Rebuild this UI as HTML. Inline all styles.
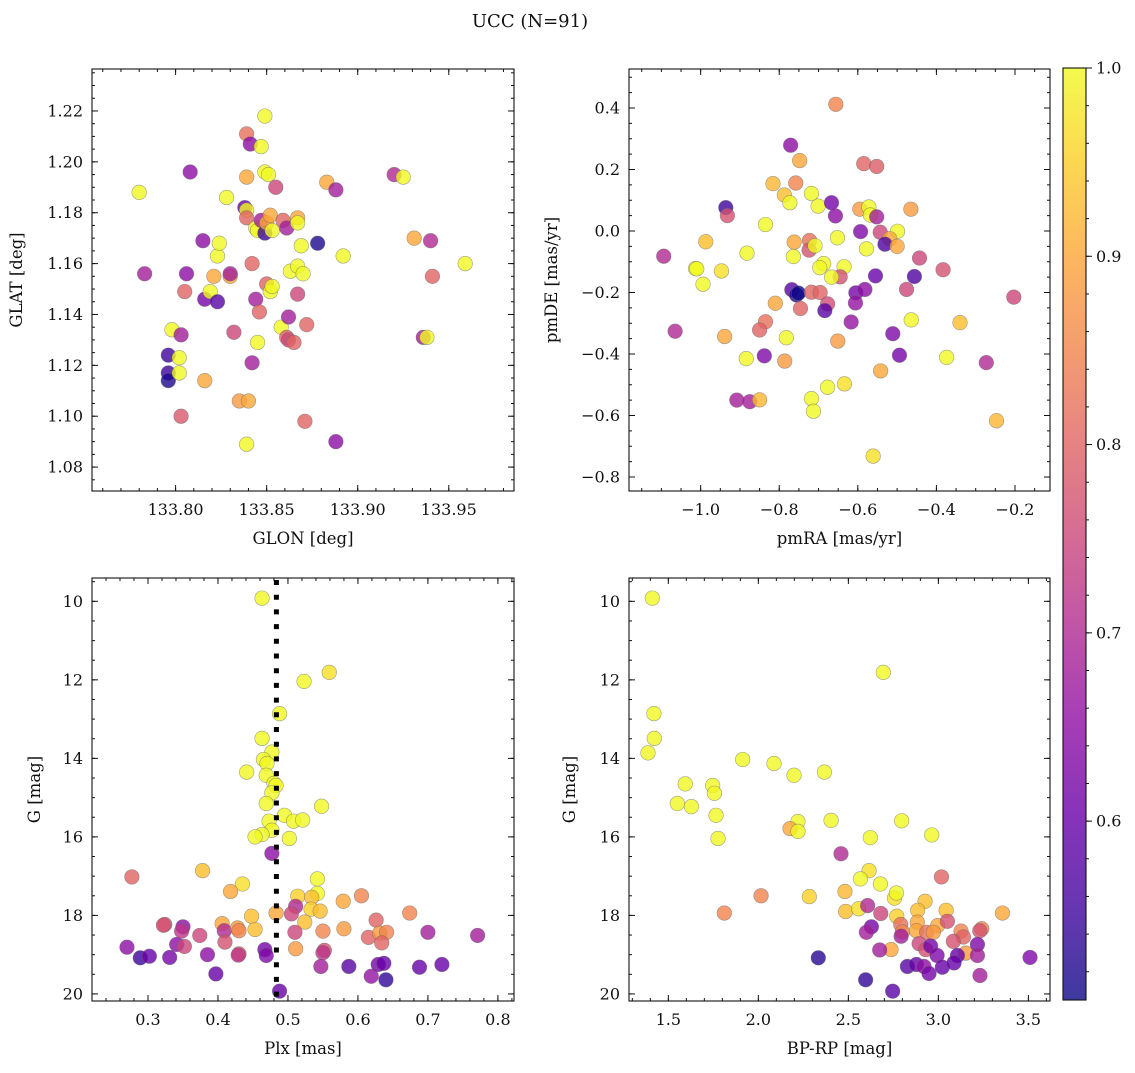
<!DOCTYPE html>
<html><head><meta charset="utf-8">
<style>
html,body{margin:0;padding:0;background:#fff;}
svg text{font-family:"DejaVu Serif","Liberation Serif",serif;fill:#111;}
</style></head>
<body>
<svg id="fig" width="1135" height="1068" viewBox="0 0 1135 1068" xmlns="http://www.w3.org/2000/svg">
<text x="530" y="27" font-size="18" text-anchor="middle">UCC (N=91)</text>
</svg>
<script>
// ---- Panel 1: GLON vs GLAT ----
const glonVals=[133.780,133.783,133.798,133.808,133.806,133.805,133.803,133.796,133.796,133.796,133.802,133.802,133.803,133.815,133.816,133.819,133.821,133.823,133.823,133.824,133.828,133.830,133.830,133.832,133.816,133.835,133.840,133.839,133.839,133.841,133.839,133.838,133.839,133.839,133.842,133.842,133.844,133.844,133.845,133.846,133.845,133.847,133.849,133.847,133.849,133.851,133.849,133.850,133.852,133.850,133.852,133.853,133.855,133.853,133.858,133.859,133.861,133.862,133.861,133.862,133.865,133.863,133.867,133.867,133.867,133.867,133.869,133.870,133.872,133.871,133.878,133.883,133.888,133.888,133.892,133.920,133.925,133.931,133.936,133.938,133.940,133.941,133.959];
const glatVals=[1.188,1.156,1.134,1.196,1.156,1.149,1.132,1.124,1.117,1.114,1.123,1.117,1.100,1.169,1.146,1.149,1.155,1.145,1.163,1.168,1.186,1.155,1.156,1.133,1.114,1.106,1.106,1.089,1.211,1.207,1.194,1.182,1.181,1.178,1.160,1.121,1.146,1.174,1.173,1.141,1.129,1.177,1.218,1.206,1.196,1.195,1.172,1.176,1.179,1.152,1.149,1.151,1.190,1.173,1.135,1.177,1.174,1.139,1.131,1.130,1.129,1.157,1.159,1.148,1.178,1.176,1.167,1.156,1.136,1.098,1.168,1.192,1.189,1.090,1.163,1.195,1.194,1.170,1.131,1.131,1.169,1.155,1.160];
const prob1=[1.0,0.68,1.0,0.65,0.65,0.8,0.68,0.55,0.55,0.52,1.0,1.0,0.78,0.65,0.62,1.0,0.9,0.58,1.0,1.0,1.0,0.9,0.68,0.75,0.9,0.88,0.9,1.0,0.82,0.65,0.9,0.6,1.0,0.8,0.8,0.68,0.68,1.0,1.0,0.8,1.0,0.68,1.0,1.0,1.0,1.0,0.55,0.9,0.9,0.8,1.0,1.0,0.75,1.0,1.0,0.8,0.68,0.68,0.8,0.75,0.8,1.0,1.0,0.75,0.9,1.0,1.0,1.0,0.8,0.8,0.52,0.9,0.68,0.65,1.0,0.7,1.0,0.9,0.68,1.0,0.7,0.8,1.0];
// ---- Panel 2: pmRA vs pmDE ----
const pmraVals=[-0.656,-0.771,-0.748,-0.585,-0.552,-0.816,-0.758,-0.787,-0.718,-0.773,-0.701,-0.667,-0.936,-0.932,-0.657,-0.595,-0.572,-0.568,-0.552,-0.465,-0.835,-0.593,-0.543,-0.499,-0.519,-0.531,-0.500,-0.652,-0.578,-0.987,-1.094,-0.882,-0.762,-0.723,-0.724,-0.709,-0.764,-0.687,-0.697,-0.635,-0.645,-0.667,-1.013,-1.010,-0.947,-0.994,-0.443,-0.383,-0.555,-0.456,-0.476,-0.203,-0.768,-0.756,-0.751,-0.718,-0.696,-0.677,-0.684,-0.746,-0.605,-0.582,-0.606,-0.810,-0.835,-0.850,-0.617,-0.464,-0.340,-1.065,-0.939,-0.782,-0.651,-0.511,-0.884,-0.838,-0.786,-0.494,-0.374,-0.273,-0.542,-0.634,-0.677,-0.718,-0.713,-0.908,-0.875,-0.850,-0.247,-0.561];
const pmdeVals=[0.412,0.279,0.229,0.219,0.210,0.154,0.156,0.117,0.122,0.092,0.081,0.092,0.076,0.050,0.049,0.071,0.078,0.052,0.046,0.071,0.021,-0.002,-0.004,-0.001,-0.025,-0.043,-0.050,-0.022,-0.058,-0.035,-0.082,-0.072,-0.036,-0.031,-0.062,-0.048,-0.083,-0.106,-0.119,-0.116,-0.149,-0.150,-0.122,-0.123,-0.130,-0.173,-0.088,-0.126,-0.146,-0.148,-0.190,-0.215,-0.191,-0.208,-0.202,-0.199,-0.200,-0.237,-0.259,-0.252,-0.201,-0.190,-0.234,-0.235,-0.295,-0.322,-0.296,-0.289,-0.298,-0.326,-0.343,-0.347,-0.358,-0.334,-0.415,-0.406,-0.423,-0.404,-0.411,-0.428,-0.455,-0.497,-0.508,-0.545,-0.586,-0.550,-0.555,-0.549,-0.617,-0.732];
const prob2=[0.85,0.65,0.9,0.8,0.79,0.92,0.85,0.93,1.0,1.0,1.0,0.62,0.55,0.77,0.65,0.88,1.0,1.0,0.68,0.88,1.0,0.63,0.75,1.0,0.9,0.57,0.9,1.0,1.0,0.93,0.7,1.0,0.9,0.82,0.77,1.0,1.0,1.0,1.0,1.0,0.77,1.0,1.0,1.0,0.97,1.0,0.75,0.77,0.6,0.57,0.75,0.75,0.58,0.53,0.5,0.8,0.8,0.76,0.58,0.8,0.62,0.65,0.66,0.9,0.82,0.8,0.66,1.0,0.93,0.7,0.9,1.0,0.88,0.63,1.0,0.63,0.88,0.62,1.0,0.7,0.9,0.97,1.0,1.0,1.0,0.68,0.68,0.92,0.92,0.97];
// ---- Panel 3: Plx vs G ----
const plxVals=[0.463,0.559,0.523,0.488,0.463,0.477,0.465,0.470,0.441,0.469,0.480,0.483,0.477,0.469,0.548,0.495,0.508,0.521,0.473,0.477,0.463,0.453,0.502,0.477,0.277,0.378,0.435,0.418,0.542,0.542,0.514,0.534,0.579,0.605,0.533,0.546,0.511,0.505,0.483,0.448,0.524,0.674,0.626,0.324,0.322,0.350,0.348,0.406,0.409,0.428,0.430,0.453,0.374,0.410,0.510,0.550,0.580,0.615,0.631,0.641,0.634,0.700,0.771,0.270,0.341,0.352,0.289,0.302,0.331,0.385,0.430,0.429,0.467,0.469,0.511,0.552,0.550,0.397,0.547,0.587,0.619,0.629,0.637,0.640,0.688,0.720,0.488];
const gVals3=[9.92,11.81,12.04,12.86,13.49,13.84,14.03,14.13,14.35,14.43,14.64,14.69,14.88,15.15,15.22,15.45,15.60,15.57,15.60,15.83,15.94,16.00,16.04,16.42,17.02,16.86,17.20,17.39,17.07,17.44,17.51,17.54,17.64,17.50,17.84,17.89,17.77,17.96,17.94,18.02,18.17,17.94,18.12,18.23,18.25,18.29,18.40,18.21,18.39,18.32,18.39,18.36,18.51,18.68,18.43,18.40,18.34,18.56,18.45,18.43,18.70,18.43,18.51,18.81,18.74,18.79,19.08,19.04,19.07,19.00,18.98,19.01,18.87,19.02,18.85,18.89,18.95,19.49,19.30,19.30,19.55,19.25,19.22,19.64,19.32,19.25,19.93];
const prob3=[1.0,0.97,1.0,1.0,1.0,1.0,1.0,1.0,1.0,1.0,1.0,1.0,1.0,1.0,1.0,1.0,1.0,1.0,1.0,1.0,1.0,1.0,1.0,0.65,0.8,0.93,0.97,0.9,1.0,1.0,0.95,0.93,0.9,0.85,0.95,0.93,0.7,0.75,0.9,0.93,0.93,0.85,0.8,0.77,0.77,0.65,0.72,0.9,0.7,0.88,0.85,0.93,0.75,0.77,0.75,0.85,0.88,0.8,0.88,0.85,0.8,0.68,0.68,0.65,0.65,0.75,0.55,0.6,0.62,0.65,0.8,0.72,0.62,0.63,0.88,0.77,0.72,0.6,0.68,0.58,0.66,0.62,0.6,0.54,0.6,0.6,0.6];
// ---- Panel 4: BP-RP vs G ----
const bprpVals=[1.411,2.694,1.420,1.422,1.387,1.913,2.087,2.198,2.367,1.594,1.746,1.756,1.550,1.628,1.765,1.776,2.220,2.176,2.220,2.404,2.796,2.622,2.963,2.459,2.615,2.567,2.678,3.017,2.015,1.811,2.283,2.481,2.756,2.767,2.926,2.485,2.557,2.607,2.680,2.769,2.885,3.043,3.356,2.791,2.800,2.883,2.878,2.935,2.996,3.050,2.972,2.628,2.600,2.793,3.126,3.139,3.241,3.230,3.083,2.893,2.930,2.957,2.737,2.674,3.152,2.993,3.106,3.217,3.217,3.509,2.333,2.828,2.878,2.920,2.948,3.022,3.087,3.231,2.596,2.746];
const gVals4=[9.92,11.81,12.86,13.49,13.86,14.03,14.13,14.43,14.35,14.65,14.69,14.89,15.15,15.23,15.45,16.04,15.61,15.79,15.86,15.58,15.59,16.02,15.95,16.43,16.86,17.07,17.20,17.02,17.50,17.94,17.52,17.39,17.56,17.43,17.64,17.90,17.83,17.75,17.95,18.02,17.87,17.87,17.94,18.23,18.42,18.17,18.39,18.43,18.26,18.15,18.43,18.29,18.43,18.53,18.40,18.55,18.34,18.39,18.66,18.72,18.87,18.78,18.87,18.88,18.96,19.02,19.02,18.74,19.02,19.07,19.08,19.30,19.25,19.30,19.48,19.32,19.21,19.53,19.64,19.93];
const prob4=[1.0,1.0,1.0,1.0,1.0,1.0,1.0,1.0,1.0,1.0,1.0,1.0,1.0,1.0,1.0,1.0,1.0,0.9,1.0,1.0,1.0,1.0,1.0,0.7,0.97,1.0,1.0,0.8,0.85,0.85,0.95,0.92,0.97,1.0,0.93,0.93,0.97,0.7,0.75,0.95,0.93,0.93,0.9,0.82,0.85,0.9,0.9,0.82,0.9,0.77,0.88,0.62,0.68,0.68,0.85,0.8,0.85,0.77,0.77,0.75,0.77,0.62,0.9,0.68,0.88,0.63,0.6,0.63,0.68,0.63,0.53,0.58,0.6,0.65,0.62,0.6,0.6,0.68,0.54,0.58];
// ---- Colorbar / shared ----
const cbarTicks=[0.6,0.7,0.8,0.9,1.0];
const plxLine=0.4835;
const vmin=0.505, vmax=1.0;

const NS="http://www.w3.org/2000/svg";
const svg=document.getElementById('fig');
function mk(tag,attrs,parent){const e=document.createElementNS(NS,tag);for(const k in attrs)e.setAttribute(k,attrs[k]);(parent||svg).appendChild(e);return e;}
const plasma=[[0,13,8,135],[0.1,65,4,157],[0.2,106,0,168],[0.3,143,13,164],[0.4,177,42,144],[0.5,204,71,120],[0.6,225,100,98],[0.7,242,132,75],[0.8,252,166,54],[0.9,252,206,37],[1,240,249,33]];
function cmap(v){let t=Math.max(0,Math.min(1,(v-vmin)/(vmax-vmin)));for(let i=1;i<plasma.length;i++){if(t<=plasma[i][0]){const a=plasma[i-1],b=plasma[i],f=(t-a[0])/(b[0]-a[0]);return `rgb(${Math.round(a[1]+f*(b[1]-a[1]))},${Math.round(a[2]+f*(b[2]-a[2]))},${Math.round(a[3]+f*(b[3]-a[3]))})`;}}return 'rgb(240,249,33)';}
function fmt(v,d){const s=Math.abs(v).toFixed(d);return (v<-1e-9?'\u2212':'')+s;}
function ticksFrom(min,max,step){const out=[];let v=Math.ceil(min/step-1e-6)*step;for(;v<=max+1e-9;v+=step)out.push(+v.toFixed(6));return out;}

function panel(cfg){
  const g=mk('g',{});
  
  
  const X=v=>cfg.L+(v-cfg.x0)/(cfg.x1-cfg.x0)*cfg.W;
  const Y=cfg.inv?(v=>cfg.T+(v-cfg.y0)/(cfg.y1-cfg.y0)*cfg.H):(v=>cfg.T+cfg.H-(v-cfg.y0)/(cfg.y1-cfg.y0)*cfg.H);
  const xlo=Math.min(cfg.x0,cfg.x1),xhi=Math.max(cfg.x0,cfg.x1),ylo=Math.min(cfg.y0,cfg.y1),yhi=Math.max(cfg.y0,cfg.y1);
  const B=cfg.T+cfg.H,R=cfg.L+cfg.W;
  const pg=mk('g',{},g);
  
  
  for(let i=0;i<cfg.xs.length;i++){
    const c=mk('circle',{cx:X(cfg.xs[i]),cy:Y(cfg.ys[i]),r:7.3,fill:cmap(cfg.ps[i]),'fill-opacity':0.8,stroke:'#666','stroke-opacity':0.6,'stroke-width':0.6},pg);
    
    
  }
  if(cfg.vline!==undefined){
    const l=mk('line',{x1:X(cfg.vline),x2:X(cfg.vline),y1:cfg.T+2,y2:B,stroke:'#000','stroke-width':5,'stroke-dasharray':'5 9.7'},g);
    
    
  }
  const tk=mk('g',{stroke:'#111','stroke-width':1},g);
  
  
  ticksFrom(xlo,xhi,cfg.xminor).forEach(v=>{const x=X(v);mk('line',{x1:x,x2:x,y1:B,y2:B-3},tk);mk('line',{x1:x,x2:x,y1:cfg.T,y2:cfg.T+3},tk);});
  ticksFrom(ylo,yhi,cfg.yminor).forEach(v=>{const y=Y(v);mk('line',{x1:cfg.L,x2:cfg.L+3,y1:y,y2:y},tk);mk('line',{x1:R,x2:R-3,y1:y,y2:y},tk);});
  const xl=mk('g',{},g);
  
  
  ticksFrom(xlo,xhi,cfg.xmajor).forEach(v=>{const x=X(v);mk('line',{x1:x,x2:x,y1:B,y2:B-6},tk);mk('line',{x1:x,x2:x,y1:cfg.T,y2:cfg.T+6},tk);
    const t=mk('text',{x:x,y:B+24,'font-size':16,'text-anchor':'middle'},xl);t.textContent=fmt(v,cfg.xd);});
  const yl=mk('g',{},g);
  
  
  ticksFrom(ylo,yhi,cfg.ymajor).forEach(v=>{const y=Y(v);mk('line',{x1:cfg.L,x2:cfg.L+6,y1:y,y2:y},tk);mk('line',{x1:R,x2:R-6,y1:y,y2:y},tk);
    const t=mk('text',{x:cfg.L-9,y:y+5.5,'font-size':16,'text-anchor':'end'},yl);t.textContent=fmt(v,cfg.yd);});
  const fr=mk('rect',{x:cfg.L,y:cfg.T,width:cfg.W,height:cfg.H,fill:'none',stroke:'#111','stroke-width':1.1},g);
  
  
  const xt=mk('text',{x:cfg.L+cfg.W/2,y:B+53,'font-size':16.5,'text-anchor':'middle'},g);
  xt.textContent=cfg.xlabel;
  
  
  const yx=cfg.ylx, yy=cfg.T+cfg.H/2;
  const yt=mk('text',{x:yx,y:yy,'font-size':16.5,'text-anchor':'middle',transform:`rotate(-90 ${yx} ${yy})`},g);
  yt.textContent=cfg.ylabel;
  
  
}

panel({name:'glon-glat-panel',L:92,T:69,W:422,H:422,x0:133.7541,x1:133.9858,y0:1.0706,y1:1.2365,xs:glonVals,ys:glatVals,ps:prob1,xmajor:0.05,xminor:0.01,ymajor:0.02,yminor:0.005,xd:2,yd:2,xlabel:'GLON [deg]',ylabel:'GLAT [deg]',ylx:22});
panel({name:'pm-panel',L:629,T:69,W:421,H:422,x0:-1.1824,x1:-0.1109,y0:-0.8455,y1:0.5268,xs:pmraVals,ys:pmdeVals,ps:prob2,xmajor:0.2,xminor:0.05,ymajor:0.2,yminor:0.05,xd:1,yd:1,xlabel:'pmRA [mas/yr]',ylabel:'pmDE [mas/yr]',ylx:557});
panel({name:'plx-g-panel',L:92,T:578,W:422,H:423,x0:0.220,x1:0.823,y0:9.406,y1:20.18,inv:true,xs:plxVals,ys:gVals3,ps:prob3,xmajor:0.1,xminor:0.02,ymajor:2,yminor:0.5,xd:1,yd:0,xlabel:'Plx [mas]',ylabel:'G [mag]',ylx:40,vline:plxLine});
panel({name:'cmd-panel',L:629,T:578,W:421,H:423,x0:1.2815,x1:3.620,y0:9.406,y1:20.18,inv:true,xs:bprpVals,ys:gVals4,ps:prob4,xmajor:0.5,xminor:0.1,ymajor:2,yminor:0.5,xd:1,yd:0,xlabel:'BP-RP [mag]',ylabel:'G [mag]',ylx:575});

const cb=mk('g',{});


const defs=mk('defs',{},cb);
const grad=mk('linearGradient',{id:'plasmaGrad',x1:0,y1:1,x2:0,y2:0},defs);
plasma.forEach(s=>mk('stop',{offset:s[0],'stop-color':`rgb(${s[1]},${s[2]},${s[3]})`},grad));
const cbT=68,cbB=1000,cbL=1063,cbW=23;
const CY=v=>cbB-(v-vmin)/(vmax-vmin)*(cbB-cbT);
mk('rect',{x:cbL,y:cbT,width:cbW,height:cbB-cbT,fill:'url(#plasmaGrad)','fill-opacity':0.8},cb);
mk('rect',{x:cbL,y:cbT,width:cbW,height:cbB-cbT,fill:'none',stroke:'#111','stroke-width':1.1},cb);
ticksFrom(0.52,1.0,0.02).forEach(v=>{const y=CY(v);mk('line',{x1:cbL+cbW,x2:cbL+cbW+3,y1:y,y2:y,stroke:'#111'},cb);});
cbarTicks.forEach(v=>{const y=CY(v);mk('line',{x1:cbL+cbW,x2:cbL+cbW+6,y1:y,y2:y,stroke:'#111'},cb);
  const t=mk('text',{x:cbL+cbW+10,y:y+5.5,'font-size':16},cb);t.textContent=v.toFixed(1);
  
  });
</script>
</body></html>
